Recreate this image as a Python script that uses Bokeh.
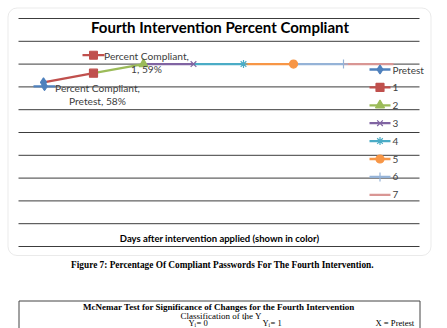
from bokeh.plotting import figure
from bokeh.models import Range1d, BoxAnnotation
from bokeh.embed import file_html
from bokeh.resources import INLINE
from bokeh.core.properties import value

# ---- data ----
series = ["Pretest", "1", "2", "3", "4", "5", "6", "7"]
percent = [58.2, 58.6, 59.0, 59.0, 59.0, 59.0, 59.0, 59.0]
y_ticks = [51, 52, 53, 54, 55, 56, 57, 58, 59, 60, 61]
label_pretest = ["Percent Compliant,", "Pretest, 58%"]
label_one = ["Percent Compliant,", "1, 59%"]
title_text = "Fourth Intervention Percent Compliant"
xaxis_title = "Days after intervention applied (shown in color)"
caption = "Figure 7: Percentage Of Compliant Passwords For The Fourth Intervention."
table_title = "McNemar Test for Significance of Changes for the Fourth Intervention"
table_sub = "Classification of the Y"
table_cols = ["Y", "Y", "X = Pretest"]
table_cols_tail = [" = 0", " = 1", ""]

# ---- style ----
colors = ["#4F81BD", "#C0504D", "#9BBB59", "#8064A2", "#4BACC6", "#F79646", "#95B3D7", "#D99694"]
markers = ["diamond", "square", "triangle", "x", "asterisk", "circle", "cross", "dash"]
msizes = [9, 8, 9, 8, 8, 8, 9, 8]

W, H = 447, 328
CAT_PX = 50.0
X_FIRST = 43.0
Y_TOP_PX = 18.0
PX_PER_PCT = 22.8


def px2x(px):
    return (px - X_FIRST) / CAT_PX


def py2y(py):
    return max(y_ticks) - (py - Y_TOP_PX) / PX_PER_PCT


def x2px(x):
    return X_FIRST + x * CAT_PX


def y2py(v):
    return Y_TOP_PX + (max(y_ticks) - v) * PX_PER_PCT


p = figure(width=W, height=H, output_backend="svg", toolbar_location=None,
           x_range=Range1d(px2x(0), px2x(W)), y_range=Range1d(py2y(H), py2y(0)),
           x_axis_location=None, y_axis_location=None, min_border=0,
           outline_line_color=None, background_fill_color="white",
           border_fill_color="white")
p.xgrid.visible = False
p.ygrid.visible = False

FONT = value("Lato")
SERIF = value("Liberation Serif")

# gridlines (span the plot area)
gx0, gx1 = px2x(18), px2x(419)
p.segment(x0=[gx0] * len(y_ticks), x1=[gx1] * len(y_ticks), y0=y_ticks, y1=y_ticks,
          line_color="#3c3c3c", line_width=1)

# title and axis title
p.text(x=[px2x(219.5)], y=[py2y(26)], text=[title_text], text_font=FONT,
       text_font_size="15px", text_font_style="bold", text_align="center",
       text_baseline="middle", text_color="#000000")
p.text(x=[px2x(219)], y=[py2y(238)], text=[xaxis_title], text_font=FONT,
       text_font_size="9.5px", text_font_style="bold", text_align="center",
       text_baseline="middle", text_color="#000000")

# data line: each segment coloured by the series it reaches
for i in range(1, len(series)):
    p.line(x=[i - 1, i], y=[percent[i - 1], percent[i]], line_color=colors[i],
           line_width=2.3)
for i in range(len(series) - 1):
    p.scatter(x=[i], y=[percent[i]], marker=markers[i], size=msizes[i],
              fill_color=colors[i], line_color=colors[i], line_width=1.2)

# data labels with legend keys
def data_label(idx, dx_key, dy_key, lines, cx, cy):
    kx = x2px(idx) + dx_key
    ky = y2py(percent[idx]) + dy_key
    p.line(x=[px2x(kx - 11), px2x(kx + 11)], y=[py2y(ky), py2y(ky)],
           line_color=colors[idx], line_width=2.3)
    p.scatter(x=[px2x(kx)], y=[py2y(ky)], marker=markers[idx], size=msizes[idx],
              fill_color=colors[idx], line_color=colors[idx])
    p.text(x=[px2x(cx), px2x(cx)], y=[py2y(cy), py2y(cy + 13)], text=lines,
           text_font=FONT, text_font_size="10.2px", text_align="center",
           text_baseline="middle", text_color="#404040")

data_label(0, 1, 4, label_pretest, 97, 87)
data_label(1, 0, -18, label_one, 146, 55)

# legend (drawn manually at the right)
for i, name in enumerate(series):
    ly = 69 + 17.9 * i
    p.line(x=[px2x(369), px2x(390)], y=[py2y(ly), py2y(ly)], line_color=colors[i],
           line_width=2.3)
    if i < len(series) - 1:
        p.scatter(x=[px2x(379.5)], y=[py2y(ly)], marker=markers[i], size=msizes[i],
                  fill_color=colors[i], line_color=colors[i], line_width=1.2)
    p.text(x=[px2x(392)], y=[py2y(ly)], text=[name], text_font=FONT,
           text_font_size="10px", text_align="left", text_baseline="middle",
           text_color="#404040")

# rounded chart border
p.add_layout(BoxAnnotation(left=px2x(7.5), right=px2x(430.5), top=py2y(7.5),
                           bottom=py2y(255), fill_alpha=0, line_color="#B8B8B8",
                           line_width=1, border_radius=9))

# caption
p.text(x=[px2x(222)], y=[py2y(264)], text=[caption], text_font=SERIF,
       text_font_size="9.3px", text_font_style="bold", text_align="center",
       text_baseline="middle", text_color="#000000")

# table box
tl, tr, tt, tb = px2x(18.5), px2x(419.5), py2y(300.5), py2y(340)
p.segment(x0=[tl, tl, tr], x1=[tr, tl, tr], y0=[tt, tt, tt], y1=[tt, tb, tb],
          line_color="#444444", line_width=1)
p.text(x=[px2x(218.5)], y=[py2y(306.5)], text=[table_title], text_font=SERIF,
       text_font_size="9px", text_font_style="bold", text_align="center",
       text_baseline="middle", text_color="#000000")
p.text(x=[px2x(180)], y=[py2y(315)], text=[table_sub], text_font=SERIF,
       text_font_size="9px", text_align="left", text_baseline="middle",
       text_color="#000000")
p.text(x=[px2x(244)], y=[py2y(317)], text=["i"], text_font=SERIF,
       text_font_size="5.5px", text_align="left", text_baseline="middle",
       text_color="#000000")
col_px = [188, 262, 375]
for cpx, head, tail in zip(col_px, table_cols, table_cols_tail):
    p.text(x=[px2x(cpx)], y=[py2y(322.5)], text=[head], text_font=SERIF,
           text_font_size="8.6px", text_align="left", text_baseline="middle",
           text_color="#000000")
    if tail:
        p.text(x=[px2x(cpx + 6)], y=[py2y(324)], text=["i"], text_font=SERIF,
               text_font_size="5.5px", text_align="left", text_baseline="middle",
               text_color="#000000")
        p.text(x=[px2x(cpx + 8)], y=[py2y(322.5)], text=[tail], text_font=SERIF,
               text_font_size="8.6px", text_align="left", text_baseline="middle",
               text_color="#000000")

open("out.html", "w").write(file_html(p, INLINE))
